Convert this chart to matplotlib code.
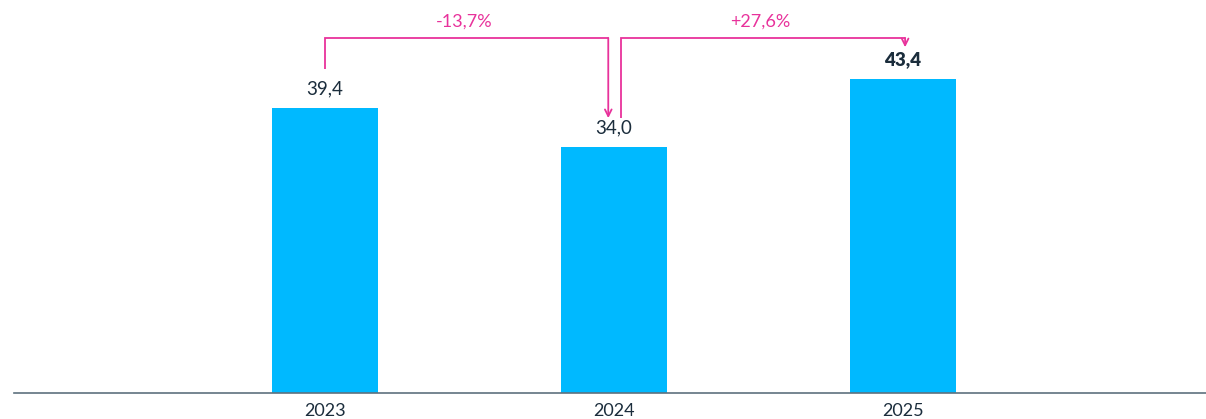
import matplotlib
matplotlib.use("Agg")
from matplotlib import pyplot as plt

years = ["2023", "2024", "2025"]
values = [39.4, 34.0, 43.4]
value_labels = ["39,4", "34,0", "43,4"]
change_labels = ["-13,7%", "+27,6%"]

BAR_COLOR = "#00B9FF"
TEXT_COLOR = "#1B2D3C"
ARROW_COLOR = "#E8329B"
AXIS_COLOR = "#5E717E"

plt.rcParams['font.family'] = ['Lato', 'DejaVu Sans']

fig = plt.figure(figsize=(12.06, 4.19), dpi=100)
# axes from x=14px to right edge, baseline at 393px from top
ax = fig.add_axes([14 / 1206, 26 / 419, 1 - 14 / 1206, 393 / 419])

x = list(range(len(years)))
ax.bar(x, values, width=0.367, color=BAR_COLOR, zorder=2)
ax.set_xlim(-1.076, 3.048)
ax.set_ylim(0, 54.33)

for spine in ["top", "right", "left"]:
    ax.spines[spine].set_visible(False)
ax.spines["bottom"].set_color(AXIS_COLOR)
ax.spines["bottom"].set_linewidth(1.2)
ax.set_yticks([])
ax.set_xticks(x)
ax.set_xticklabels(years, fontsize=13, color=TEXT_COLOR)
ax.tick_params(axis="x", length=0, pad=7)

# value labels, last one bold
for i, (v, lab) in enumerate(zip(values, value_labels)):
    ax.text(i, v + 1.5, lab, ha="center", va="bottom", fontsize=13.5,
            color=TEXT_COLOR, fontweight="heavy" if i == len(values) - 1 else "normal")

# change brackets
top = 49.1
brackets = [
    (0.0, values[0] + 5.4, 1 - 0.02, values[1] + 4.0),
    (1 + 0.024, values[1] + 4.0, 2 + 0.007, values[2] + 4.4),
]
for (x0, y0, x1, y1), lab in zip(brackets, change_labels):
    ax.plot([x0, x0, x1], [y0, top, top], color=ARROW_COLOR, lw=1.3,
            solid_capstyle="butt", solid_joinstyle="miter", clip_on=False)
    ax.annotate("", xy=(x1, y1), xytext=(x1, top),
                arrowprops=dict(arrowstyle="->", color=ARROW_COLOR, lw=1.3,
                                shrinkA=0, shrinkB=0, mutation_scale=12))
    ax.text((x0 + x1) / 2 - 0.01, top + 1.1, lab, ha="center", va="bottom",
            fontsize=13, color=ARROW_COLOR)

fig.savefig("out.png", dpi=100)
